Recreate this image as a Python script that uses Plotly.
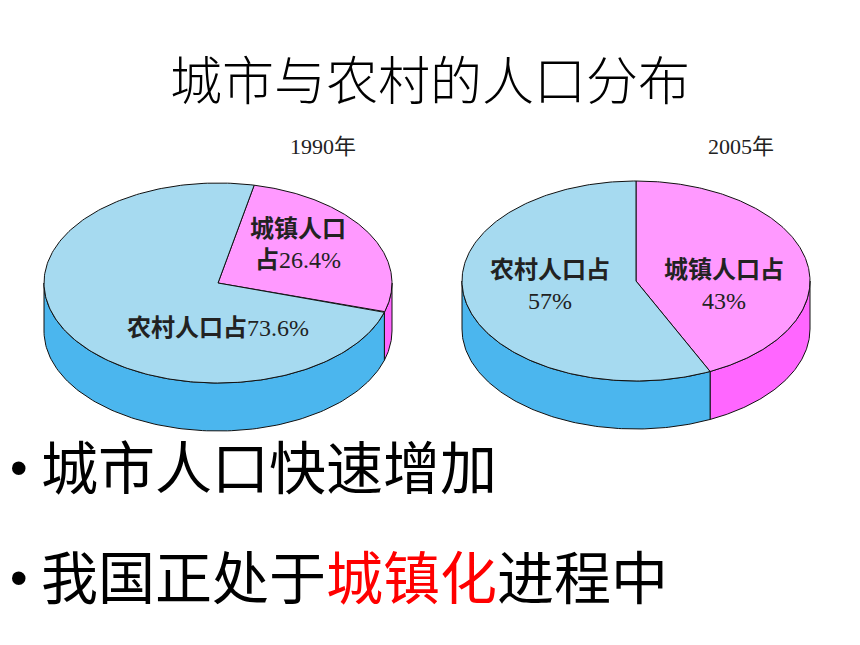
import numpy as np
import plotly.graph_objects as go

# ---- data ----
years = ["1990年", "2005年"]
categories = ["城镇人口", "农村人口"]
urban_share = [26.4, 43.0]
rural_share = [73.6, 57.0]
title_text = "城市与农村的人口分布"
bullets = ["城市人口快速增加", "我国正处于<span style='color:#FF0000'>城镇化</span>进程中"]

# ---- styling / geometry (not data) ----
W, H = 860, 645
OFF = 8  # page body margin in the browser
centers = [(218, 283), (636, 281)]
start_angles = [78, 90]          # degrees, where the urban slice begins (clockwise)
RX, RY, DEPTH = 174, 100, 48
top_colors = {"城镇人口": "#FF99FF", "农村人口": "#A6DAF0"}
side_colors = {"城镇人口": "#FF66FF", "农村人口": "#4BB6EE"}
CJK = "Noto Sans CJK SC"
SERIF_MIX = "Liberation Serif, Noto Sans CJK SC"

fig = go.Figure()


def arc(cx, cy, t0, t1, dy=0.0, n=120):
    t = np.radians(np.linspace(t0, t1, n))
    return cx + RX * np.cos(t), cy - RY * np.sin(t) + dy


def visible_intervals(lo, hi):
    out = []
    for k in (-2, -1, 0, 1):
        a, b = -180 + 360 * k, 0 + 360 * k
        s, e = max(lo, a), min(hi, b)
        if e > s:
            out.append((s, e))
    return out


for (cx, cy), start, u, r in zip(centers, start_angles, urban_share, rural_share):
    total = u + r
    slices = []
    a = start
    for cat, v in zip(categories, [u, r]):
        span = 360.0 * v / total
        slices.append((cat, a - span, a))   # clockwise
        a -= span
    # sides
    for cat, lo, hi in slices:
        for s, e in visible_intervals(lo, hi):
            xt, yt = arc(cx, cy, s, e)
            xb, yb = arc(cx, cy, e, s, dy=DEPTH)
            xs = np.concatenate([xt, xb, xt[:1]])
            ys = np.concatenate([yt, yb, yt[:1]])
            fig.add_trace(go.Scatter(x=xs, y=ys, mode="lines", fill="toself",
                                     fillcolor=side_colors[cat],
                                     line=dict(color="#111111", width=1),
                                     hoverinfo="skip", showlegend=False))
    # top faces
    for cat, lo, hi in slices:
        xa, ya = arc(cx, cy, lo, hi, n=240)
        xs = np.concatenate([[cx], xa, [cx]])
        ys = np.concatenate([[cy], ya, [cy]])
        fig.add_trace(go.Scatter(x=xs, y=ys, mode="lines", fill="toself",
                                 fillcolor=top_colors[cat],
                                 line=dict(color="#111111", width=1),
                                 hoverinfo="skip", showlegend=False))

ann = []
# title
ann.append(dict(x=430, y=77, text=title_text, showarrow=False,
                font=dict(family=CJK, size=52, color="#000000", weight=300)))
# year labels
for (cx, cy), yr in zip(centers, years):
    ann.append(dict(x=cx + 105, y=146, text=yr, showarrow=False,
                    font=dict(family=SERIF_MIX, size=22, color="#222222")))

# slice labels
lab_font = dict(family=SERIF_MIX, size=24, color="#222222")
ann.append(dict(x=298, y=244, text=f"<b>城镇人口</b><br><b>占</b>{urban_share[0]:.1f}%",
                showarrow=False, font=lab_font, align="center"))
ann.append(dict(x=218, y=328, text=f"<b>农村人口占</b>{rural_share[0]:.1f}%",
                showarrow=False, font=lab_font))
ann.append(dict(x=550, y=285, text=f"<b>农村人口占</b><br>{rural_share[1]:.0f}%",
                showarrow=False, font=lab_font, align="center"))
ann.append(dict(x=724, y=285, text=f"<b>城镇人口占</b><br>{urban_share[1]:.0f}%",
                showarrow=False, font=lab_font, align="center"))

# bullets
for yy, txt in zip([464, 574], bullets):
    ann.append(dict(x=19, y=yy + 4, xanchor="center", text="•", showarrow=False,
                    font=dict(family="Liberation Sans", size=50, color="#000000")))
    ann.append(dict(x=39, y=yy, xanchor="left", text=txt, showarrow=False,
                    font=dict(family=CJK, size=57, color="#000000")))

for a_ in ann:
    a_.setdefault("xref", "x")
    a_.setdefault("yref", "y")
    a_.setdefault("yanchor", "middle")

fig.update_layout(
    width=W, height=H, margin=dict(l=0, r=0, t=0, b=0),
    paper_bgcolor="white", plot_bgcolor="white",
    xaxis=dict(range=[OFF, W + OFF], visible=False, fixedrange=True),
    yaxis=dict(range=[H + OFF, OFF], visible=False, fixedrange=True),
    annotations=ann, showlegend=False,
)

fig.write_html("out.html")
